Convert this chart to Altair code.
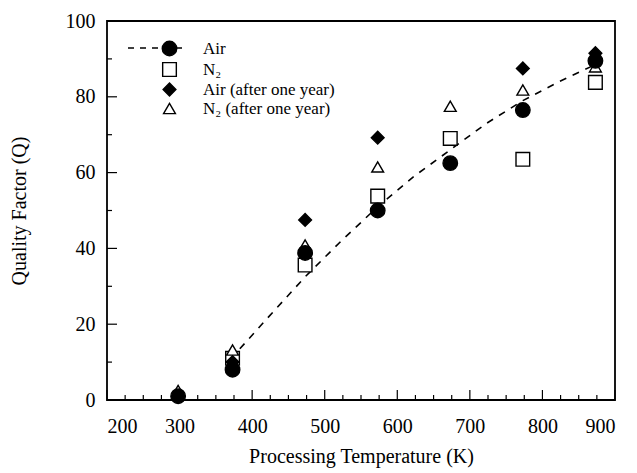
import altair as alt
import pandas as pd

# ---- data ----
temps = [298, 373, 473, 573, 673, 773, 873]
air = [1.0, 8.0, 38.8, 50.0, 62.5, 76.5, 89.5]
n2 = [None, 11.0, 35.6, 53.8, 69.0, 63.5, 83.8]
air_year = [None, 10.0, 47.5, 69.2, None, 87.5, 91.5]
n2_year = [2.5, 13.2, 40.9, 61.5, 77.5, 81.8, 87.9]

series = ["Air", "N₂", "Air (after one year)", "N₂ (after one year)"]

fit_t = [383, 423, 473, 523, 573, 623, 673, 723, 773, 823, 873]
fit_q = [13.5, 22.0, 32.5, 42.0, 51.0, 59.0, 66.0, 73.0, 79.0, 84.0, 88.5]

x_major = [200, 300, 400, 500, 600, 700, 800, 900]
x_minor = [225, 250, 275, 325, 350, 375, 425, 450, 475, 525, 550, 575,
           625, 650, 675, 725, 750, 775, 825, 850, 875]
y_major = [0, 20, 40, 60, 80, 100]
y_minor = [10, 30, 50, 70, 90]

# ---- tables ----
rows = []
# draw order: open squares, open triangles, diamonds, circles last
for name, vals in [(series[1], n2), (series[3], n2_year), (series[2], air_year), (series[0], air)]:
    for t, q in zip(temps, vals):
        if q is not None:
            rows.append({"T": t, "Q": q, "S": name})
pts = pd.DataFrame(rows)
fit = pd.DataFrame({"T": fit_t, "Q": fit_q})

FONT = "Times New Roman, Liberation Serif, serif"
W, H = 508, 379

xscale = alt.Scale(domain=[200, 900], nice=False, zero=False)
yscale = alt.Scale(domain=[0, 100], nice=False)

legend = alt.Legend(
    orient="none", legendX=54, legendY=19, title=None,
    labelFont=FONT, labelFontSize=17, labelColor="black",
    symbolStrokeColor="black", symbolStrokeWidth=1.4,
    rowPadding=0, labelOffset=25, padding=0,
)

points = alt.Chart(pts).mark_point(
    filled=False, opacity=1, fillOpacity=1, strokeOpacity=1, strokeWidth=1.4
).encode(
    x=alt.X("T:Q", scale=xscale, axis=alt.Axis(
        values=x_major, ticks=False, domain=False, grid=False, format="d",
        labelFont=FONT, labelFontSize=20, labelColor="black", labelPadding=16,
        title="Processing Temperature (K)", titleFont=FONT, titleFontSize=20,
        titleFontWeight="normal", titleColor="black", titlePadding=10)),
    y=alt.Y("Q:Q", scale=yscale, axis=alt.Axis(
        values=y_major, ticks=False, domain=False, grid=False,
        labelFont=FONT, labelFontSize=20, labelColor="black", labelPadding=12,
        title="Quality Factor (Q)", titleFont=FONT, titleFontSize=20,
        titleFontWeight="normal", titleColor="black", titlePadding=36)),
    shape=alt.Shape("S:N", scale=alt.Scale(domain=series,
                    range=["circle", "square", "diamond", "triangle-up"]), legend=legend),
    fill=alt.Fill("S:N", scale=alt.Scale(domain=series,
                  range=["black", "white", "black", "white"]), legend=legend),
    stroke=alt.Stroke("S:N", scale=alt.Scale(domain=series,
                      range=["black", "black", "black", "black"]), legend=legend),
    size=alt.Size("S:N", scale=alt.Scale(domain=series,
                  range=[210, 140, 150, 130]), legend=legend),
)

line = alt.Chart(fit).mark_line(
    color="black", strokeDash=[7, 7], strokeWidth=1.6
).encode(x=alt.X("T:Q", scale=xscale), y=alt.Y("Q:Q", scale=yscale))

def xticks(vals, length):
    return alt.Chart(pd.DataFrame({"v": vals})).mark_rule(
        color="black", strokeWidth=1.2
    ).encode(x=alt.X("v:Q", scale=xscale), y=alt.value(H), y2=alt.value(H - length))

def yticks(vals, length):
    return alt.Chart(pd.DataFrame({"v": vals})).mark_rule(
        color="black", strokeWidth=1.2
    ).encode(y=alt.Y("v:Q", scale=yscale), x=alt.value(0), x2=alt.value(length))

legend_dash = alt.Chart(pd.DataFrame({"a": [0]})).mark_rule(
    color="black", strokeDash=[6, 6], strokeWidth=1.6
).encode(x=alt.value(21), x2=alt.value(80), y=alt.value(27))

chart = alt.layer(
    xticks(x_major, 10), xticks(x_minor, 5), yticks(y_major, 10), yticks(y_minor, 5),
    line, legend_dash, points
).properties(
    width=W, height=H,
    autosize=alt.AutoSizeParams(type="none"),
    padding={"left": 99, "top": 13, "right": 14, "bottom": 72},
    background="white",
).configure(font=FONT).configure_axis(
    labelFont=FONT, titleFont=FONT
).configure_legend(labelFont=FONT).configure_view(stroke="black", strokeWidth=1.8)

chart.save("out.html", embed_options={"renderer": "svg", "actions": False})
